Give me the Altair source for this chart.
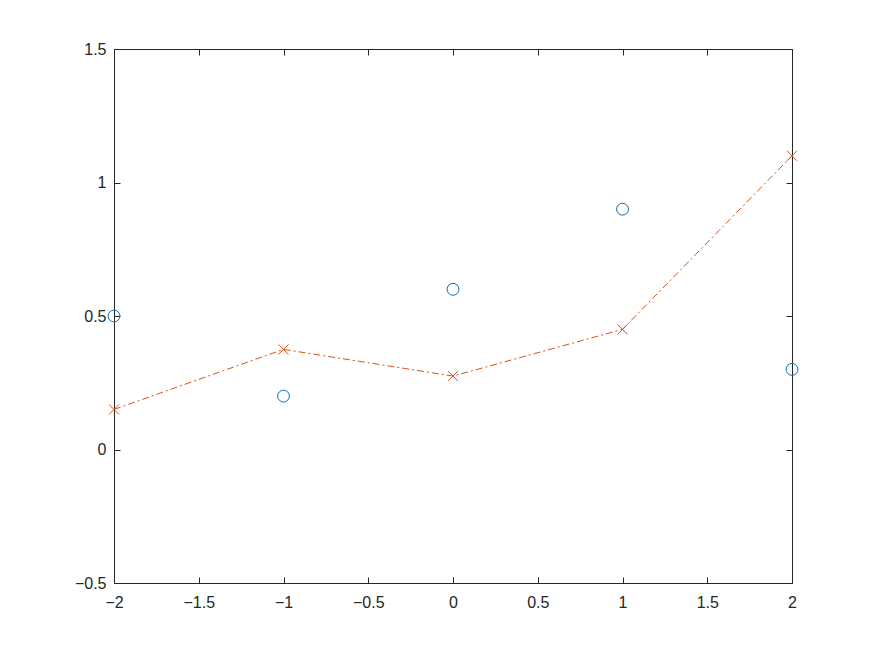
import altair as alt
import pandas as pd

x_vals = [-2, -1, 0, 1, 2]
circle_y = [0.5, 0.2, 0.6, 0.9, 0.3]
cross_y = [0.15, 0.375, 0.275, 0.45, 1.1]
x_ticks = [-2, -1.5, -1, -0.5, 0, 0.5, 1, 1.5, 2]
y_ticks = [-0.5, 0, 0.5, 1, 1.5]

df = pd.DataFrame({"x": x_vals, "c": circle_y, "s": cross_y})

FONT = "Liberation Sans"
AX = "#262626"
xs = alt.Scale(domain=[-2, 2], nice=False, zero=False)
ys = alt.Scale(domain=[-0.5, 1.5], nice=False, zero=False)


def ax(orient, labels, values, pad):
    return alt.Axis(
        orient=orient, values=values, labels=labels, format="~g",
        domain=False, grid=False, ticks=True, tickSize=6, offset=-6,
        tickColor=AX, tickWidth=1, labelColor=AX, labelFont=FONT,
        labelFontSize=16, labelPadding=pad, labelFlush=False,
        labelOverlap=False, labelBound=False, title=None,
    )


circles = alt.Chart(df).mark_point(
    shape="circle", size=140, filled=False, color="#0072BD",
    strokeWidth=1, opacity=1,
).encode(
    x=alt.X("x:Q", scale=xs, axis=ax("bottom", True, x_ticks, 11)),
    y=alt.Y("c:Q", scale=ys, axis=ax("left", True, y_ticks, 8)),
)

line = alt.Chart(df).mark_line(
    color="#D95319", strokeWidth=1, strokeDash=[7, 3, 2, 3],
).encode(
    x=alt.X("x:Q", scale=xs, axis=ax("top", False, x_ticks, 8)),
    y=alt.Y("s:Q", scale=ys, axis=ax("right", False, y_ticks, 8)),
)

crosses = alt.Chart(df).mark_point(
    shape="M-1,-1L1,1M-1,1L1,-1", size=100, filled=False,
    color="#D95319", strokeWidth=1, opacity=1,
).encode(
    x=alt.X("x:Q", scale=xs, axis=None),
    y=alt.Y("s:Q", scale=ys, axis=None),
)

chart = alt.layer(circles, line, crosses).resolve_axis(
    x="independent", y="independent"
).properties(
    width=678, height=534,
    autosize=alt.AutoSizeParams(type="none"),
    padding={"left": 106, "top": 41, "right": 60, "bottom": 60},
    background="white",
).configure_view(stroke=AX, strokeWidth=1)

chart.save("out.html", embed_options={"renderer": "svg", "actions": False})
